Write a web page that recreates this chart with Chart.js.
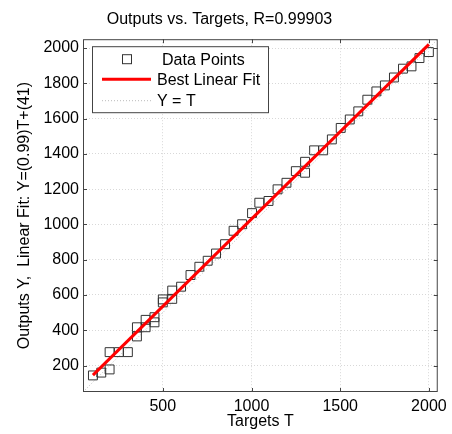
<!DOCTYPE html>
<html>
<head>
<meta charset="utf-8">
<script src="https://cdn.jsdelivr.net/npm/chart.js@4"></script>
<style>
  html, body { margin: 0; padding: 0; background: #fff; }
  #wrap { width: 452px; height: 434px; }
</style>
</head>
<body>
<div id="wrap"><canvas id="myChart" width="452" height="434"></canvas></div>
<script>
// targets / outputs
let targets = [106, 153, 200, 200, 252, 303, 354, 354, 403, 403, 453, 453, 500, 500, 553, 553, 603, 656, 706, 753,
  800, 851, 899, 947, 1003, 1044, 1096, 1147, 1197, 1250, 1302, 1302, 1353, 1404, 1453, 1503, 1554, 1602, 1653,
  1704, 1752, 1803, 1854, 1902, 1947, 2000];
let outputs = [144, 160, 178, 276, 276, 276, 365, 417, 417, 459, 445, 474, 558, 575, 578, 625, 647, 713, 760, 794,
  835, 888, 964, 1001, 1064, 1123, 1133, 1199, 1236, 1302, 1293, 1355, 1420, 1420, 1482, 1547, 1595, 1641, 1707,
  1754, 1788, 1833, 1883, 1896, 1943, 1977];

let fitSlope = 0.99
let fitIntercept = 41
let axisMin = 50
let axisMax = 2050

let xTicks = [500, 1000, 1500, 2000]
let yTicks = [200, 400, 600, 800, 1000, 1200, 1400, 1600, 1800, 2000]

let titleText = 'Outputs vs. Targets, R=0.99903'
let xTitle = 'Targets T'
let yTitle = 'Outputs Y,  Linear Fit: Y=(0.99)T+(41)'
let legendLabels = ['Data Points', 'Best Linear Fit', 'Y = T']

const FONT = 'Arial, "Liberation Sans", sans-serif'

let points = targets.map((t, i) => ({ x: t, y: outputs[i] }))
let tMin = Math.min(...targets)
let tMax = Math.max(...targets)
let fitLine = [tMin, tMax].map(t => ({ x: t, y: fitSlope * t + fitIntercept }))
let identLine = [axisMin, axisMax].map(t => ({ x: t, y: t }))

// box round the plot, inward ticks, and the legend inside the plot
const matlabBits = {
  id: 'matlabBits',
  afterDatasetsDraw(chart) {
    const ctx = chart.ctx
    const a = chart.chartArea
    const xs = chart.scales.x
    const ys = chart.scales.y
    ctx.save()
    ctx.strokeStyle = '#444'
    ctx.lineWidth = 1
    ctx.strokeRect(a.left + 0.5, a.top + 0.5, a.right - a.left - 1, a.bottom - a.top - 1)
    ctx.beginPath()
    xTicks.forEach(v => {
      const px = Math.round(xs.getPixelForValue(v)) + 0.5
      ctx.moveTo(px, a.bottom); ctx.lineTo(px, a.bottom - 4)
      ctx.moveTo(px, a.top); ctx.lineTo(px, a.top + 4)
    })
    yTicks.forEach(v => {
      const py = Math.round(ys.getPixelForValue(v)) + 0.5
      ctx.moveTo(a.left, py); ctx.lineTo(a.left + 4, py)
      ctx.moveTo(a.right, py); ctx.lineTo(a.right - 4, py)
    })
    ctx.stroke()

    // legend
    const lx = a.left + 9, ly = a.top + 7, lw = 176, lh = 66
    ctx.fillStyle = '#fff'
    ctx.fillRect(lx, ly, lw, lh)
    ctx.strokeStyle = '#444'
    ctx.strokeRect(lx + 0.5, ly + 0.5, lw, lh)
    const rows = [ly + 13, ly + 33, ly + 54]
    // square marker
    ctx.strokeStyle = '#333'
    ctx.strokeRect(lx + 30.5, rows[0] - 4.5, 9, 9)
    // red line
    ctx.strokeStyle = '#ff0000'
    ctx.lineWidth = 3
    ctx.beginPath(); ctx.moveTo(lx + 10, rows[1]); ctx.lineTo(lx + 59, rows[1]); ctx.stroke()
    // dotted line
    ctx.strokeStyle = '#bbb'
    ctx.lineWidth = 1
    ctx.setLineDash([1, 2])
    ctx.beginPath(); ctx.moveTo(lx + 10, rows[2] + 0.5); ctx.lineTo(lx + 59, rows[2] + 0.5); ctx.stroke()
    ctx.setLineDash([])
    ctx.fillStyle = '#000'
    ctx.font = '16px ' + FONT
    ctx.textBaseline = 'middle'
    ctx.fillText(legendLabels[0], lx + 70, rows[0] + 1)
    ctx.fillText(legendLabels[1], lx + 65, rows[1] + 1)
    ctx.fillText(legendLabels[2], lx + 65, rows[2] + 1)
    ctx.restore()
  }
}

let grafico = new Chart('myChart', {
  type: 'scatter',
  data: {
    datasets: [{
      label: legendLabels[1],
      type: 'line',
      data: fitLine,
      borderColor: '#ff0000',
      borderWidth: 3,
      pointRadius: 0,
      fill: false,
      order: 0
    }, {
      label: legendLabels[0],
      data: points,
      pointStyle: 'rect',
      pointRadius: 6.3,
      borderColor: '#333',
      borderWidth: 1,
      backgroundColor: 'rgba(0,0,0,0)',
      order: 1
    }, {
      label: legendLabels[2],
      type: 'line',
      data: identLine,
      borderColor: '#bbb',
      borderWidth: 1,
      borderDash: [1, 2],
      pointRadius: 0,
      fill: false,
      order: 2
    }]
  },
  options: {
    responsive: false,
    animation: false,
    layout: { padding: { left: 0, right: 13, top: 0, bottom: 0 } },
    plugins: {
      legend: { display: false },
      tooltip: { enabled: false },
      title: {
        display: true,
        text: titleText,
        color: '#000',
        font: { family: FONT, size: 16, weight: 'normal' },
        padding: { top: 10, bottom: 10 }
      }
    },
    scales: {
      x: {
        type: 'linear',
        min: axisMin,
        max: axisMax,
        afterBuildTicks: s => { s.ticks = xTicks.map(v => ({ value: v })) },
        afterFit: s => { s.height = 42 },
        grid: { color: '#d8d8d8', drawTicks: false },
        border: { display: false, dash: [1, 2] },
        ticks: { color: '#000', padding: 5, font: { family: FONT, size: 16 }, maxRotation: 0, callback: v => String(v) },
        title: { display: true, text: xTitle, color: '#000', font: { family: FONT, size: 16 }, padding: { top: 0, bottom: 3 } }
      },
      y: {
        type: 'linear',
        min: axisMin,
        max: axisMax,
        afterBuildTicks: s => { s.ticks = yTicks.map(v => ({ value: v })) },
        afterFit: s => { s.width = 83 },
        grid: { color: '#d8d8d8', drawTicks: false },
        border: { display: false, dash: [1, 2] },
        ticks: { color: '#000', padding: 4, font: { family: FONT, size: 16 }, callback: v => String(v) },
        title: { display: true, text: yTitle, color: '#000', font: { family: FONT, size: 16 }, padding: { top: 15, bottom: 0 } }
      }
    }
  },
  plugins: [matlabBits]
});
</script>
</body>
</html>
